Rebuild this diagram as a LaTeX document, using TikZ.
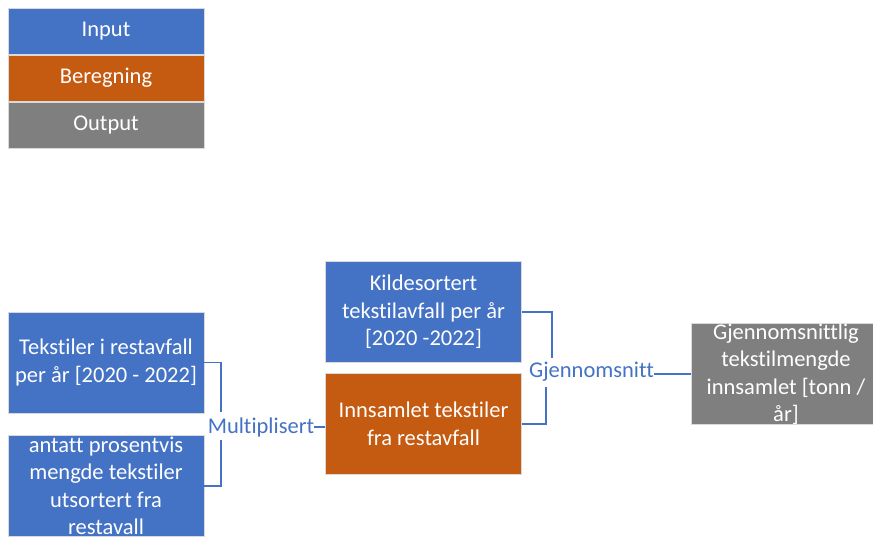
\documentclass[tikz,border=0pt]{standalone}
\usepackage{fontspec}
\setmainfont{Carlito}[Ligatures=NoCommon]
\definecolor{inblue}{HTML}{4472C4}
\definecolor{calcorange}{HTML}{C55A11}
\definecolor{outgray}{HTML}{7F7F7F}
\definecolor{edgeline}{HTML}{D9D9D9}
\begin{document}
\begin{tikzpicture}[x=1pt,y=-1pt,
  boxfont/.style={font=\fontsize{22.5}{27.5}\selectfont},
  card/.style={boxfont,draw=edgeline,line width=0.6pt,text=white,align=center,
    inner sep=0pt,minimum width=196pt,minimum height=101pt},
  legendcard/.style={card,minimum height=46pt},
  inputcard/.style={card,fill=inblue},
  calccard/.style={card,fill=calcorange},
  outputcard/.style={card,fill=outgray,minimum width=190pt},
  oplabel/.style={boxfont,text=inblue,inner sep=0pt},
  link/.style={draw=inblue,line width=1.4pt}]
\useasboundingbox (0,0) rectangle (873,536);

% legend
\node[legendcard,fill=inblue]      (legIn)   at (106,31)  {Input};
\node[legendcard,fill=calcorange]  (legCalc) at (106,78)  {Beregning};
\node[legendcard,fill=outgray]     (legOut)  at (106,125) {Output};

% inputs
\node[inputcard] (tek) at (106,362.5) {Tekstiler i restavfall\\per år [2020 - 2022]};
\node[inputcard] (ant) at (106,486) {antatt prosentvis\\mengde tekstiler\\utsortert fra\\restavall};
\node[inputcard] (kil) at (423.5,312) {Kildesortert\\tekstilavfall per år\\{[2020 -2022]}};

% calculation
\node[calccard] (inn) at (423.5,424) {Innsamlet tekstiler\\fra restavfall};

% output
\node[outputcard] (out) at (786,374) {Gjennomsnittlig\\tekstilmengde\\innsamlet [tonn /\\år]};

% operations
\node[oplabel] (mul) at (261,427) {Multiplisert};
\node[oplabel] (gje) at (591.5,372) {Gjennomsnitt};

\coordinate (mulTop) at (221,412);
\coordinate (mulBot) at (221,440);
\coordinate (gjeTop) at (552,358);
\coordinate (gjeBot) at (546,387);

\draw[link] (tek.east) -| (mulTop);
\draw[link] (ant.east) -| (mulBot);
\draw[link] (mul.east) -- (mul.east -| inn.west);

\draw[link] (kil.east) -| (gjeTop);
\draw[link] (inn.east) -| (gjeBot);
\draw[link] ([yshift=-2pt]gje.east) -- ([yshift=-2pt]gje.east -| out.west);
\end{tikzpicture}
\end{document}
